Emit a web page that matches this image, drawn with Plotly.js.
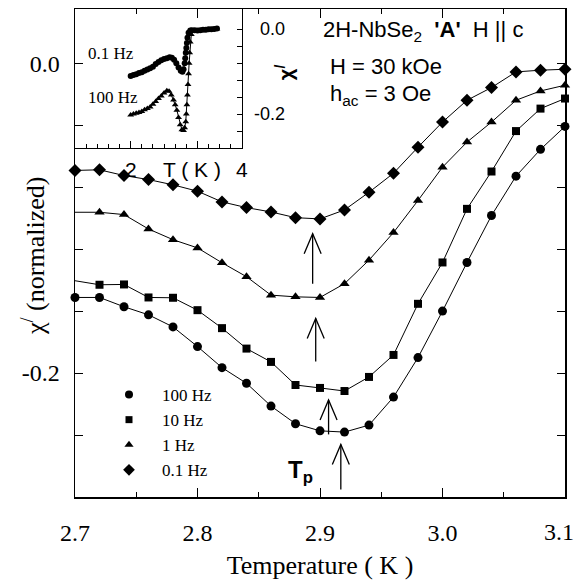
<!DOCTYPE html>
<html>
<head>
<meta charset="utf-8">
<script src="https://cdn.plot.ly/plotly-3.0.1.min.js"></script>
<style>html,body{margin:0;padding:0;background:#fff;}#chart{width:577px;height:581px;}</style>
</head>
<body>
<div id="chart"></div>
<script>
// ---- main panel data ----
const temperature = [2.70,2.72,2.74,2.76,2.78,2.80,2.82,2.84,2.86,2.88,2.90,2.92,2.94,2.96,2.98,3.00,3.02,3.04,3.06,3.08,3.10];
const chi100Hz = [-0.1512,-0.1512,-0.1572,-0.1624,-0.1702,-0.1829,-0.1965,-0.2066,-0.2213,-0.2327,-0.2373,-0.2381,-0.2336,-0.2155,-0.1900,-0.1600,-0.1286,-0.0983,-0.0729,-0.0556,-0.0408];
const chi10Hz  = [-0.1404,-0.1430,-0.1428,-0.1512,-0.1514,-0.1594,-0.1710,-0.1842,-0.1928,-0.2077,-0.2096,-0.2116,-0.2025,-0.1883,-0.1553,-0.1286,-0.0940,-0.0699,-0.0438,-0.0293,-0.0228];
const chi1Hz   = [-0.0962,-0.0962,-0.0977,-0.1070,-0.1139,-0.1192,-0.1288,-0.1378,-0.1497,-0.1508,-0.1512,-0.1423,-0.1271,-0.1093,-0.0886,-0.0671,-0.0509,-0.0380,-0.0239,-0.0179,-0.0142];
const chi01Hz  = [-0.0692,-0.0688,-0.0725,-0.0751,-0.0785,-0.0826,-0.0895,-0.0932,-0.0960,-0.0997,-0.1005,-0.0947,-0.0833,-0.0710,-0.0542,-0.0380,-0.0239,-0.0157,-0.0056,-0.0045,-0.0039];
const seriesNames = ['100 Hz','10 Hz','1 Hz','0.1 Hz'];

// peak-position arrows (T, tip, tail)
const arrowT    = [2.894, 2.8965, 2.907, 2.917];
const arrowTip  = [-0.110, -0.1648, -0.2174, -0.2461];
const arrowTail = [-0.1423, -0.1926, -0.2396, -0.2752];

// ticks (last x label drawn as an annotation so it stays inside the page)
const xTickVals = [2.7,2.8,2.9,3.0,3.1];
const xTickText = ['2.7','2.8','2.9','3.0',''];
const xLastLabel = '3.1';
const xMinorVals = [2.75,2.85,2.95,3.05];
const yTickVals = [0,-0.04,-0.08,-0.12,-0.16,-0.2,-0.24,-0.28];
const yTickText = ['0.0','','','','','-0.2','',''];

// ---- inset data ----
const insetT01 = [2.00,2.05,2.10,2.15,2.20,2.25,2.30,2.35,2.40,2.45,2.50,2.55,2.60,2.65,2.70,2.74,2.78,2.82,2.86,2.90,2.93,2.95,2.97,2.98,2.99,3.00,3.01,3.02,3.04,3.07,3.10,3.15,3.20,3.25,3.30,3.35,3.40,3.45,3.50,3.55];
const insetChi01 = [-0.110,-0.108,-0.106,-0.103,-0.101,-0.098,-0.095,-0.092,-0.088,-0.082,-0.077,-0.073,-0.070,-0.068,-0.066,-0.067,-0.072,-0.080,-0.090,-0.098,-0.100,-0.094,-0.080,-0.068,-0.055,-0.044,-0.032,-0.020,-0.008,-0.003,-0.002,-0.002,-0.003,-0.002,-0.001,-0.001,0.000,0.000,0.001,0.002];
const insetT100 = [2.00,2.05,2.10,2.15,2.20,2.25,2.30,2.35,2.40,2.45,2.50,2.55,2.60,2.65,2.69,2.73,2.77,2.80,2.83,2.86,2.89,2.92,2.95,2.97,2.99,3.00,3.01,3.02,3.03,3.04,3.05,3.06,3.07,3.09,3.12,3.16,3.20,3.25,3.30,3.35,3.40,3.45,3.50,3.55];
const insetChi100 = [-0.202,-0.200,-0.198,-0.196,-0.194,-0.190,-0.187,-0.183,-0.177,-0.170,-0.163,-0.157,-0.150,-0.145,-0.146,-0.155,-0.167,-0.178,-0.191,-0.208,-0.225,-0.237,-0.239,-0.232,-0.218,-0.200,-0.178,-0.155,-0.130,-0.105,-0.080,-0.055,-0.030,-0.012,-0.005,-0.004,-0.004,-0.003,-0.003,-0.002,-0.002,-0.001,0.000,0.001];
const insetMinorVals = [1.2,1.4,1.6,1.8,2.2,2.4,2.6,2.8,3.0,3.4,3.6,3.8];
const insetMajorVals = [2.0,3.2];
const insetYTicks = [0,-0.04,-0.08,-0.12,-0.16,-0.2,-0.24];

// ---- layout geometry ----
const W = 577, H = 581;
const M = {l:75, r:12, t:9, b:84};
const xRange = [2.7, 3.1], yRange = [-0.28, 0.035];
const plotW = W - M.l - M.r, plotH = H - M.t - M.b;
const pxX = (xRange[1]-xRange[0]) / plotW;  // data per px
const pxY = (yRange[1]-yRange[0]) / plotH;

const serif = 'Liberation Serif, Times New Roman, serif';
const sans = 'Liberation Sans, Arial, Helvetica, sans-serif';
const symbols = ['circle','square','triangle-up','diamond'];
const sizes = [9, 8, 9, 10];
const mainSeries = [chi100Hz, chi10Hz, chi1Hz, chi01Hz];
const hideFirst = [false, true, true, false];

const traces = [];
mainSeries.forEach((ys, i) => {
  traces.push({
    x: temperature, y: ys, mode: 'lines+markers', type: 'scatter',
    line: {color: '#000', width: 1},
    marker: {symbol: symbols[i], color: '#000', opacity: 1, line: {width: 0},
             size: temperature.map((t, k) => (hideFirst[i] && k === 0) ? 0 : sizes[i])},
    cliponaxis: false, showlegend: false, hoverinfo: 'skip'
  });
});
// legend entries
seriesNames.forEach((n, i) => {
  traces.push({x: [null], y: [null], mode: 'markers', type: 'scatter', name: n,
    marker: {symbol: symbols[i], color: '#000', size: sizes[i]-1, opacity: 1}, showlegend: true});
});
// inset traces
traces.push({x: insetT01, y: insetChi01, xaxis: 'x2', yaxis: 'y2', mode: 'lines+markers', type: 'scatter',
  line: {color: '#000', width: 1}, marker: {symbol: 'circle', color: '#000', size: 6, opacity: 1}, showlegend: false});
traces.push({x: insetT100, y: insetChi100, xaxis: 'x2', yaxis: 'y2', mode: 'lines+markers', type: 'scatter',
  line: {color: '#000', width: 1}, marker: {symbol: 'triangle-up', color: '#000', size: 6, opacity: 1}, showlegend: false});

// arrows as shapes
const headLenPx = 20, headHalfPx = 8.5;
const shapes = [];
arrowT.forEach((x, i) => {
  shapes.push({type: 'line', xref: 'x', yref: 'y', x0: x, x1: x, y0: arrowTail[i], y1: arrowTip[i], line: {color: '#000', width: 1.3}});
  const dx = headHalfPx * pxX, dy = headLenPx * pxY;
  shapes.push({type: 'path', xref: 'x', yref: 'y',
    path: `M${x-dx},${arrowTip[i]-dy} L${x},${arrowTip[i]} L${x+dx},${arrowTip[i]-dy}`,
    line: {color: '#000', width: 1.3}});
});

const px2paperX = p => (p - M.l) / plotW;
const px2paperY = p => (H - M.b - p) / plotH;

const annotations = [
  {xref: 'paper', yref: 'paper', x: px2paperX(34), y: px2paperY(256), xanchor: 'center', yanchor: 'middle', showarrow: false, textangle: -90,
   text: 'χ<sup>/</sup> (normalized)', font: {family: serif, size: 26, color: '#000'}},
  {xref: 'paper', yref: 'paper', x: px2paperX(576), y: px2paperY(532), xanchor: 'right', yanchor: 'middle', showarrow: false,
   text: xLastLabel, font: {family: serif, size: 24, color: '#000'}},
  {xref: 'paper', yref: 'paper', x: px2paperX(321), y: px2paperY(31), xanchor: 'left', yanchor: 'middle', showarrow: false,
   text: "2H-NbSe<sub>2</sub>\u00a0\u00a0<b>'A'</b>\u00a0\u00a0H || c", font: {family: sans, size: 22, color: '#000'}},
  {xref: 'paper', yref: 'paper', x: px2paperX(328), y: px2paperY(66), xanchor: 'left', yanchor: 'middle', showarrow: false,
   text: 'H = 30 kOe', font: {family: sans, size: 22, color: '#000'}},
  {xref: 'paper', yref: 'paper', x: px2paperX(328), y: px2paperY(95), xanchor: 'left', yanchor: 'middle', showarrow: false,
   text: 'h<sub>ac</sub> = 3 Oe', font: {family: sans, size: 22, color: '#000'}},
  {xref: 'x', yref: 'y', x: 2.8837, y: -0.2633, xanchor: 'center', yanchor: 'middle', showarrow: false,
   text: '<b>T<sub>p</sub></b>', font: {family: sans, size: 24, color: '#000'}},
  // inset labels
  {xref: 'x2', yref: 'y2', x: 1.198, y: -0.056, xanchor: 'left', yanchor: 'middle', showarrow: false,
   text: '0.1 Hz', font: {family: serif, size: 17, color: '#000'}},
  {xref: 'x2', yref: 'y2', x: 1.198, y: -0.162, xanchor: 'left', yanchor: 'middle', showarrow: false,
   text: '100 Hz', font: {family: serif, size: 17, color: '#000'}},
  {xref: 'paper', yref: 'y2', x: px2paperX(287), y: 0, xanchor: 'right', yanchor: 'middle', showarrow: false,
   text: '0.0', font: {family: sans, size: 18, color: '#000'}},
  {xref: 'paper', yref: 'y2', x: px2paperX(287), y: -0.2, xanchor: 'right', yanchor: 'middle', showarrow: false,
   text: '-0.2', font: {family: sans, size: 18, color: '#000'}},
  {xref: 'paper', yref: 'y2', x: px2paperX(284), y: -0.101, xanchor: 'center', yanchor: 'middle', showarrow: false, textangle: -90,
   text: '<b>χ<sup>/</sup></b>', font: {family: sans, size: 20, color: '#000'}},
  {xref: 'x2', yref: 'paper', x: 2, y: px2paperY(169), xanchor: 'center', yanchor: 'middle', showarrow: false,
   text: '2', font: {family: sans, size: 21, color: '#000'}},
  {xref: 'x2', yref: 'paper', x: 3.099, y: px2paperY(169), xanchor: 'center', yanchor: 'middle', showarrow: false,
   text: 'T ( K )', font: {family: sans, size: 21, color: '#000'}},
  {xref: 'x2', yref: 'paper', x: 4, y: px2paperY(169), xanchor: 'center', yanchor: 'middle', showarrow: false,
   text: '4', font: {family: sans, size: 21, color: '#000'}}
];

const layout = {
  width: W, height: H, margin: M,
  paper_bgcolor: '#fff', plot_bgcolor: 'rgba(0,0,0,0)',
  font: {family: serif, color: '#000'},
  showlegend: true,
  legend: {x: px2paperX(96), y: px2paperY(377), xanchor: 'left', yanchor: 'top', bgcolor: 'rgba(0,0,0,0)',
           itemwidth: 56, font: {family: serif, size: 17, color: '#000'}, tracegroupgap: 0},
  xaxis: {range: xRange, domain: [0, 1], showgrid: false, zeroline: false,
    showline: true, linecolor: '#000', linewidth: 1.5, mirror: 'ticks',
    ticks: 'inside', ticklen: 9, tickwidth: 1, tickcolor: '#000',
    tickmode: 'array', tickvals: xTickVals, ticktext: xTickText, ticklabelstandoff: 14,
    minor: {tickmode: 'array', tickvals: xMinorVals, ticks: 'inside', ticklen: 5, tickwidth: 1, tickcolor: '#000', showgrid: false},
    tickfont: {family: serif, size: 24, color: '#000'},
    title: {text: 'Temperature ( K )', font: {family: serif, size: 26, color: '#000'}, standoff: 10}},
  yaxis: {range: yRange, domain: [0, 1], showgrid: false, zeroline: false,
    showline: true, linecolor: '#000', linewidth: 1.5, mirror: 'ticks',
    ticks: 'inside', ticklen: 8, tickwidth: 1, tickcolor: '#000',
    tickmode: 'array', tickvals: yTickVals, ticktext: yTickText, ticklabelstandoff: 9,
    tickfont: {family: serif, size: 24, color: '#000'}},
  xaxis2: {domain: [0, px2paperX(242)], range: [1, 4], anchor: 'y2', showgrid: false, zeroline: false,
    showline: true, linecolor: '#000', linewidth: 1, mirror: true,
    ticks: 'inside', ticklen: 7, tickwidth: 1, tickcolor: '#000', tickmode: 'array', tickvals: insetMajorVals, showticklabels: false,
    minor: {tickmode: 'array', tickvals: insetMinorVals, ticks: 'inside', ticklen: 4, tickwidth: 1, tickcolor: '#000', showgrid: false}},
  yaxis2: {domain: [px2paperY(148), 1], range: [-0.28, 0.048], anchor: 'x2', side: 'right', showgrid: false, zeroline: false,
    showline: true, linecolor: '#000', linewidth: 1, mirror: true,
    ticks: 'inside', ticklen: 5, tickwidth: 1, tickcolor: '#000', tickmode: 'array', tickvals: insetYTicks, showticklabels: false},
  shapes: shapes,
  annotations: annotations
};

Plotly.newPlot('chart', traces, layout, {staticPlot: true, displayModeBar: false});
</script>
</body>
</html>
